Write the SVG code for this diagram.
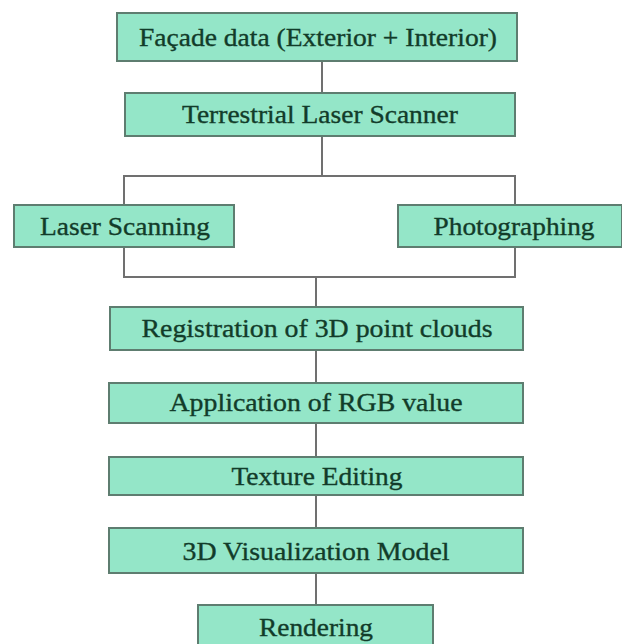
<svg xmlns="http://www.w3.org/2000/svg" width="622" height="644" viewBox="0 0 622 644">
<style>
.box{fill:#94e6c8;stroke:#5e7d70;stroke-width:2}
.lbl{font-family:"Liberation Serif","Times New Roman",serif;font-size:26px;fill:#123c2a;stroke:#123c2a;stroke-width:0.35;text-anchor:middle}
.ln{stroke:#707070;stroke-width:2;fill:none}
</style>
<rect width="622" height="644" fill="#ffffff"/>
<g id="connectors">
<line class="ln" x1="322" y1="61" x2="322" y2="93"/>
<line class="ln" x1="322" y1="136" x2="322" y2="176"/>
<polyline class="ln" points="124,205 124,176 515,176 515,205"/>
<polyline class="ln" points="124,247 124,277 515,277 515,247"/>
<line class="ln" x1="316" y1="277" x2="316" y2="307"/>
<line class="ln" x1="316" y1="350" x2="316" y2="383"/>
<line class="ln" x1="316" y1="423" x2="316" y2="457"/>
<line class="ln" x1="316" y1="495" x2="316" y2="528"/>
<line class="ln" x1="316" y1="573" x2="316" y2="605"/>
</g>
<g id="facade">
<rect class="box" x="117" y="13" width="400" height="48"/>
<text class="lbl" x="318" y="46" textLength="358" lengthAdjust="spacingAndGlyphs">Façade data (Exterior + Interior)</text>
</g>
<g id="tls">
<rect class="box" x="125" y="93" width="390" height="43"/>
<text class="lbl" x="320" y="123" textLength="276" lengthAdjust="spacingAndGlyphs">Terrestrial Laser Scanner</text>
</g>
<g id="laser">
<rect class="box" x="14" y="205" width="220" height="42"/>
<text class="lbl" x="125" y="235" textLength="170" lengthAdjust="spacingAndGlyphs">Laser Scanning</text>
</g>
<g id="photo">
<rect class="box" x="398" y="205" width="224" height="42"/>
<text class="lbl" x="514" y="235" textLength="161" lengthAdjust="spacingAndGlyphs">Photographing</text>
</g>
<g id="registration">
<rect class="box" x="110" y="307" width="413" height="43"/>
<text class="lbl" x="317" y="337" textLength="351" lengthAdjust="spacingAndGlyphs">Registration of 3D point clouds</text>
</g>
<g id="rgb">
<rect class="box" x="109" y="383" width="414" height="40"/>
<text class="lbl" x="316" y="411" textLength="293" lengthAdjust="spacingAndGlyphs">Application of RGB value</text>
</g>
<g id="texture">
<rect class="box" x="109" y="457" width="414" height="38"/>
<text class="lbl" x="317" y="485" textLength="171" lengthAdjust="spacingAndGlyphs">Texture Editing</text>
</g>
<g id="visual">
<rect class="box" x="109" y="528" width="414" height="45"/>
<text class="lbl" x="316" y="560" textLength="267" lengthAdjust="spacingAndGlyphs">3D Visualization Model</text>
</g>
<g id="rendering">
<rect class="box" x="198" y="605" width="235" height="48"/>
<text class="lbl" x="316" y="636" textLength="114" lengthAdjust="spacingAndGlyphs">Rendering</text>
</g>
</svg>
